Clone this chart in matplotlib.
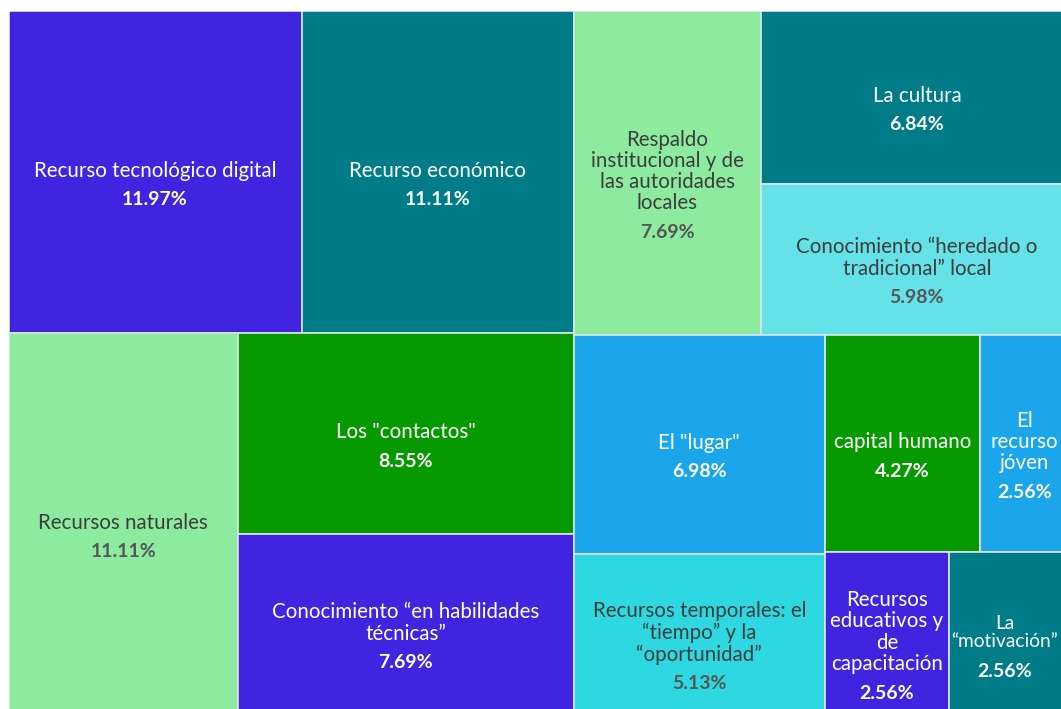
import matplotlib
matplotlib.use('Agg')
import matplotlib.pyplot as plt
from matplotlib.patches import Rectangle

plt.rcParams['font.family'] = ['Lato', 'DejaVu Sans']

# data
labels = ['Recurso tecnológico digital',
          'Recurso económico',
          'Recursos naturales',
          'Los "contactos"',
          'Conocimiento “en habilidades\ntécnicas”',
          'Respaldo\ninstitucional y de\nlas autoridades\nlocales',
          'El "lugar"',
          'La cultura',
          'Conocimiento “heredado o\ntradicional” local',
          'Recursos temporales: el\n“tiempo” y la\n“oportunidad”',
          'capital humano',
          'El\nrecurso\njóven',
          'Recursos\neducativos y\nde\ncapacitación',
          'La\n“motivación”']
values = [11.97, 11.11, 11.11, 8.55, 7.69, 7.69, 6.98, 6.84, 5.98, 5.13, 4.27, 2.56, 2.56, 2.56]

PURPLE = '#4124E0'
TEAL = '#007C89'
LGREEN = '#8CEB9E'
GREEN = '#069900'
BLUE = '#1BA5EA'
CYAN = '#2DD8E0'
LCYAN = '#64E2E8'
colors = [PURPLE, TEAL, LGREEN, GREEN, PURPLE, LGREEN, BLUE, TEAL, LCYAN, CYAN,
          GREEN, BLUE, PURPLE, TEAL]
dark_text = {LGREEN, LCYAN, CYAN}

# split structure of the treemap ('h' = side by side, 'v' = stacked)
tree = ('h', [('v', [('h', [0, 1]),
                     ('h', [2, ('v', [3, 4])])]),
              ('v', [('h', [5, ('v', [7, 8])]),
                     ('h', [('v', [6, 9]),
                            ('v', [('h', [10, 11]), ('h', [12, 13])])])])])


def total(node):
    if isinstance(node, int):
        return values[node]
    return sum(total(c) for c in node[1])


def layout(node, x, y, w, h, out):
    if isinstance(node, int):
        out[node] = (x, y, w, h)
        return
    direction, children = node
    s = total(node)
    pos = 0.0
    for c in children:
        f = total(c) / s
        if direction == 'h':
            layout(c, x + pos * w, y, w * f, h, out)
        else:
            layout(c, x, y + pos * h, w, h * f, out)
        pos += f


W, H = 1064.5, 704.0
X0 = 8.5
fig = plt.figure(figsize=(10.61, 7.09), dpi=100)
ax = fig.add_axes([X0 / 1061, (709 - 11 - H) / 709, W / 1061, H / 709])
ax.set_xlim(0, W)
ax.set_ylim(H, 0)
ax.axis('off')

rects = {}
layout(tree, 0, 0, W, H, rects)
renderer = fig.canvas.get_renderer()

LINE = 21.5
for i, (x, y, w, h) in rects.items():
    ax.add_patch(Rectangle((x, y), w, h, facecolor=colors[i], edgecolor='#dde4ee',
                           linewidth=1.2))
    if colors[i] in dark_text:
        name_c, pct_c = '#3d3d3d', '#555555'
    else:
        name_c, pct_c = 'white', 'white'
    n = labels[i].count('\n') + 1
    mid = y + h / 2 + 13
    first = mid - ((n - 1) * LINE + 29) / 2
    cx = x + w / 2
    t = ax.text(cx, first + (n - 1) * LINE / 2, labels[i], ha='center', va='center',
                fontsize=14.8, color=name_c, linespacing=1.08, multialignment='center')
    # keep the label inside the part of the box that is on the canvas
    right = min(x + w, 1061 - X0 - 3)
    tw = t.get_window_extent(renderer).width
    if tw > right - x - 2:
        t.set_fontsize(14.8 * (right - x - 2) / tw)
        tw = right - x - 2
    if cx + tw / 2 > right:
        cx = right - tw / 2
        t.set_x(cx)
    ax.text(cx, first + (n - 1) * LINE + 29, '%.2f%%' % values[i], ha='center',
            va='center', fontsize=14, fontweight='bold', color=pct_c)

fig.savefig('out.png', dpi=100)
